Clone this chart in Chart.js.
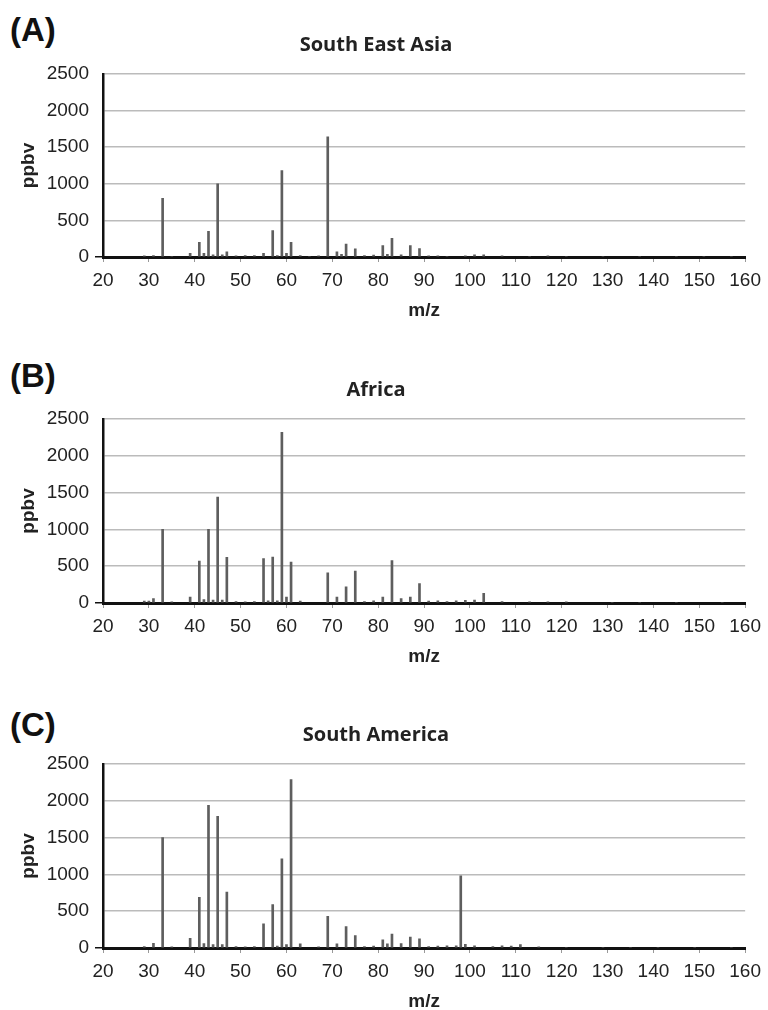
<!DOCTYPE html>
<html>
<head>
<meta charset="utf-8">
<script src="https://cdn.jsdelivr.net/npm/chart.js@4.4.0/dist/chart.umd.min.js"></script>
<style>
  body { margin: 0; background: #fff; width: 768px; height: 1010px; overflow: hidden; position: relative; }
  .panel-label { position: absolute; left: 10px; font: bold 33px "Liberation Sans", Arial, sans-serif; line-height: 1; color: #111; }
  canvas { position: absolute; left: 0; }
</style>
</head>
<body>
<div class="panel-label" style="top:13px">(A)</div>
<canvas id="chartA" width="768" height="287" style="top:35px"></canvas>
<div class="panel-label" style="top:359px">(B)</div>
<canvas id="chartB" width="768" height="288" style="top:380px"></canvas>
<div class="panel-label" style="top:708px">(C)</div>
<canvas id="chartC" width="768" height="288" style="top:725px"></canvas>

<script>
// m/z ticks and ppbv ticks
const mzTicks = [20, 30, 40, 50, 60, 70, 80, 90, 100, 110, 120, 130, 140, 150, 160];
const ppbvTicks = [0, 500, 1000, 1500, 2000, 2500];

// (A) South East Asia
const mzSEA = [29, 31, 33, 35, 39, 41, 42, 43, 44, 45, 46, 47, 49, 51, 53, 55, 57, 58, 59, 60, 61, 63, 65, 67, 69, 71, 72, 73, 75, 77, 79, 81, 82, 83, 85, 87, 89, 91, 93, 95, 99, 101, 103, 107, 113, 117, 121, 129, 137, 145, 151, 157];
const ppbvSEA = [15, 20, 800, 10, 50, 200, 50, 350, 30, 1000, 30, 70, 15, 20, 20, 50, 360, 20, 1180, 50, 200, 20, 10, 15, 1640, 70, 35, 175, 110, 20, 25, 155, 35, 255, 30, 155, 115, 15, 15, 10, 15, 30, 30, 15, 10, 15, 10, 10, 10, 10, 10, 10];

// (B) Africa
const mzAfrica = [29, 30, 31, 33, 35, 39, 41, 42, 43, 44, 45, 46, 47, 49, 51, 53, 55, 56, 57, 58, 59, 60, 61, 63, 69, 71, 73, 75, 77, 79, 81, 83, 85, 87, 89, 91, 93, 95, 97, 99, 101, 103, 107, 113, 117, 121, 131, 137, 145, 155];
const ppbvAfrica = [25, 27, 60, 1000, 15, 80, 570, 45, 1000, 40, 1440, 40, 620, 20, 15, 20, 605, 30, 625, 30, 2320, 80, 555, 25, 410, 80, 220, 435, 20, 30, 80, 575, 60, 80, 265, 25, 30, 20, 30, 35, 40, 130, 20, 15, 15, 15, 10, 10, 10, 10];

// (C) South America
const mzSAm = [29, 31, 33, 35, 39, 41, 42, 43, 44, 45, 46, 47, 49, 51, 53, 55, 57, 58, 59, 60, 61, 63, 67, 69, 71, 73, 75, 77, 79, 81, 82, 83, 85, 87, 89, 91, 93, 95, 97, 98, 99, 101, 105, 107, 109, 111, 115, 121, 129, 135, 141, 149, 157];
const ppbvSAm = [20, 63, 1500, 15, 130, 690, 60, 1940, 45, 1790, 45, 760, 20, 15, 20, 330, 590, 25, 1210, 45, 2290, 55, 15, 430, 55, 290, 170, 20, 25, 110, 55, 190, 60, 150, 125, 20, 25, 30, 30, 980, 50, 30, 20, 30, 25, 45, 15, 10, 10, 10, 10, 10, 10];

const tickFont = { family: '"Liberation Sans", Arial, sans-serif', size: 19 };
const axisTitleFont = { family: '"Liberation Sans", Arial, sans-serif', size: 19, weight: 'bold' };

function makeSpectrum(canvasId, title, mz, ppbv) {
  const ctx = document.getElementById(canvasId).getContext("2d");
  return new Chart(ctx, {
    type: "bar",
    data: {
      datasets: [
        {
          data: mz.map((m, i) => ({ x: m, y: ppbv[i] })),
          backgroundColor: "#5e5e5e",
          borderWidth: 0,
          barThickness: 2,
        },
      ],
    },
    options: {
      responsive: false,
      animation: false,
      layout: { padding: { left: 0, right: 16, top: 0, bottom: 0 } },
      plugins: {
        legend: { display: false },
        tooltip: { enabled: false },
        title: {
          display: true,
          text: title,
          color: "#222",
          font: { family: '"Open Sans", sans-serif', size: 20, weight: "bold", lineHeight: "20px" },
          padding: { top: 0, bottom: 19 },
        },
      },
      scales: {
        x: {
          type: "linear",
          min: 20,
          max: 160,
          offset: false,
          afterBuildTicks: (scale) => {
            scale.ticks = mzTicks.map((v) => ({ value: v }));
          },
          afterFit: (scale) => {
            scale.height = 65;
          },
          ticks: {
            color: "#222",
            font: tickFont,
            padding: 7,
            maxRotation: 0,
            autoSkip: false,
            callback: (v) => String(v),
          },
          grid: {
            drawOnChartArea: false,
            offset: false,
            tickLength: 5,
            tickColor: "#999",
          },
          border: { color: "#111", width: 3 },
          title: {
            display: true,
            text: "m/z",
            color: "#222",
            font: axisTitleFont,
            padding: { top: 0, bottom: 0 },
          },
        },
        y: {
          min: 0,
          max: 2500,
          afterBuildTicks: (scale) => {
            scale.ticks = ppbvTicks.map((v) => ({ value: v }));
          },
          afterFit: (scale) => {
            scale.width = 103;
          },
          ticks: {
            color: "#222",
            font: tickFont,
            padding: 6,
            callback: (v) => String(v),
          },
          grid: {
            color: "#bbb",
            lineWidth: 1.5,
            tickLength: 8,
            tickColor: (c) => (c.tick && c.tick.value === 0 ? "#111" : "rgba(0,0,0,0)"),
          },
          border: { color: "#111", width: 2.5 },
          title: {
            display: true,
            text: "ppbv",
            color: "#222",
            font: axisTitleFont,
            padding: { top: 17, bottom: 0 },
          },
        },
      },
    },
  });
}

makeSpectrum("chartA", "South East Asia", mzSEA, ppbvSEA);
makeSpectrum("chartB", "Africa", mzAfrica, ppbvAfrica);
makeSpectrum("chartC", "South America", mzSAm, ppbvSAm);
</script>
</body>
</html>
